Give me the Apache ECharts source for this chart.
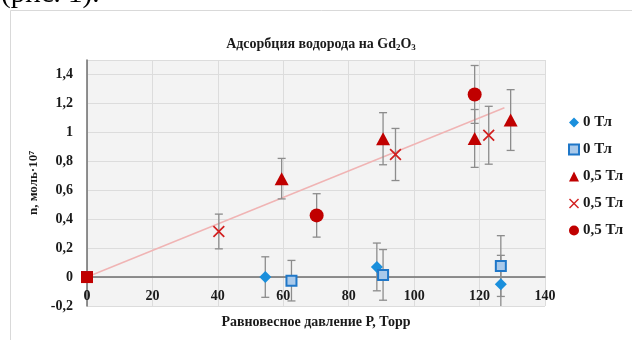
<!DOCTYPE html>
<html><head><meta charset="utf-8">
<script src="https://cdn.jsdelivr.net/npm/echarts@6/dist/echarts.min.js"></script>
<style>html,body{margin:0;padding:0;background:#fff}#c{width:632px;height:340px}</style>
</head><body><div id="c"></div>
<script>
// ---- data ----
const legendLabels = ['0 Тл', '0 Тл', '0,5 Тл', '0,5 Тл', '0,5 Тл'];
const diamondX = [0, 54.5, 88.6, 126.5];
const diamondY = [0, 0.0, 0.07, -0.05];
const diamondErr = [0, 0.14, 0.165, 0.2];
const squareX = [0, 62.5, 90.5, 126.5];
const squareY = [0, -0.025, 0.015, 0.076];
const squareErr = [0, 0.14, 0.175, 0.21];
const triX = [59.5, 90.5, 118.5, 129.5];
const triY = [0.68, 0.956, 0.958, 1.085];
const triErr = [0.14, 0.18, 0.2, 0.21];
const crossX = [40.3, 94.3, 122.8];
const crossY = [0.315, 0.847, 0.98];
const crossErr = [0.12, 0.18, 0.2];
const circX = [70.2, 118.5];
const circY = [0.426, 1.262];
const circErr = [0.15, 0.2];
const originX = [0];
const originY = [0];
const trendX = [0, 127.6];
const trendY = [0, 1.17];
const xTicks = [0, 20, 40, 60, 80, 100, 120, 140];
const yTicks = [-0.2, 0, 0.2, 0.4, 0.6, 0.8, 1, 1.2, 1.4];
const yMin = -0.2, yMax = 1.5;

const zip = (xs, ys) => xs.map((x, i) => [x, ys[i]]);
const errData = (xs, ys, es) => xs.map((x, i) => [x, ys[i] - es[i], ys[i] + es[i]]).filter((d, i) => es[i] > 0);

const FONT = '"Liberation Serif", "Times New Roman", serif';
const RED = '#c00000';
const GRID = { left: 87, right: 87, top: 60, bottom: 34 };
const plotH = 340 - GRID.top - GRID.bottom;
// shift the x axis up so that it sits at y = 0 (labels follow, as in the reference)
const xAxisOffset = -plotH * (0 - yMin) / (yMax - yMin);

function errSeries(xs, ys, es) {
  return {
    type: 'custom', silent: true, z: 2, clip: true,
    data: errData(xs, ys, es),
    renderItem: function (params, api) {
      const p0 = api.coord([api.value(0), api.value(1)]);
      const p1 = api.coord([api.value(0), api.value(2)]);
      const w = 4;
      const st = { stroke: '#8c8c8c', lineWidth: 1.3 };
      return { type: 'group', children: [
        { type: 'line', shape: { x1: p0[0], y1: p0[1], x2: p1[0], y2: p1[1] }, style: st },
        { type: 'line', shape: { x1: p0[0] - w, y1: p0[1], x2: p0[0] + w, y2: p0[1] }, style: st },
        { type: 'line', shape: { x1: p1[0] - w, y1: p1[1], x2: p1[0] + w, y2: p1[1] }, style: st }
      ]};
    }
  };
}

const crossPath = 'path://M1,0 L5,4 L9,0 L10,1 L6,5 L10,9 L9,10 L5,6 L1,10 L0,9 L4,5 L0,1 Z';

const chart = echarts.init(document.getElementById('c'), null, { renderer: 'canvas' });
chart.setOption({
  animation: false,
  backgroundColor: '#fff',
  title: {
    text: 'Адсорбция водорода на Gd{s|2}O{s|3}',
    left: 316, textAlign: 'center', top: 32,
    textStyle: {
      fontFamily: FONT, fontWeight: 'bold', fontSize: 14, color: '#1a1a1a',
      rich: { s: { fontFamily: FONT, fontWeight: 'bold', fontSize: 9, color: '#1a1a1a', verticalAlign: 'bottom', padding: [6, 0, 0, 0] } }
    }
  },
  graphic: [
    { type: 'rect', shape: { x: 10.5, y: 10.5, width: 640, height: 340 }, style: { fill: 'none', stroke: '#d9d9d9', lineWidth: 1 }, silent: true },
    { type: 'text', left: 1, top: -20, style: { text: '(рис. 1).', font: '29px "Liberation Serif", serif', fill: '#000' }, silent: true }
  ],
  legend: {
    orient: 'vertical', left: 563, top: 110, itemGap: 12,
    itemWidth: 10, itemHeight: 10,
    data: ['s1', 's2', 's3', 's4', 's5'],
    formatter: function (n) { return legendLabels[+n.slice(1) - 1]; },
    textStyle: { fontFamily: FONT, fontWeight: 'bold', fontSize: 15, color: '#1a1a1a', padding: [0, 0, 0, -1] }
  },
  grid: Object.assign({ show: true, backgroundColor: '#f3f3f3', borderWidth: 0,
    containLabel: false, outerBoundsMode: 'none' }, GRID),
  xAxis: {
    type: 'value', min: 0, max: 140, interval: 20, offset: xAxisOffset,
    axisLine: { show: true, onZero: false, lineStyle: { color: '#6e6e6e', width: 1.5 } },
    axisTick: { show: false },
    splitLine: { show: true, lineStyle: { color: '#dcdcdc', width: 1 } },
    axisLabel: { margin: 12, fontFamily: FONT, fontWeight: 'bold', fontSize: 14, color: '#1a1a1a',
      formatter: v => xTicks.includes(v) ? String(v) : '' },
    name: 'Равновесное давление Р, Торр', nameLocation: 'middle', nameGap: 38,
    nameTextStyle: { fontFamily: FONT, fontWeight: 'bold', fontSize: 14, color: '#1a1a1a' }
  },
  yAxis: {
    type: 'value', min: yMin, max: yMax, interval: 0.2,
    axisLine: { show: true, onZero: false, lineStyle: { color: '#6e6e6e', width: 1.5 } },
    axisTick: { show: false },
    splitLine: { show: true, lineStyle: { color: '#dcdcdc', width: 1 } },
    axisLabel: { margin: 14, fontFamily: FONT, fontWeight: 'bold', fontSize: 14, color: '#1a1a1a',
      formatter: function (v) {
        const r = Math.round(v * 10) / 10;
        if (!yTicks.some(t => Math.abs(t - r) < 1e-6)) return '';
        return String(r).replace('.', ',');
      } },
    name: 'n, моль·10⁷', nameLocation: 'middle', nameGap: 47, nameRotate: 90,
    nameTextStyle: { fontFamily: FONT, fontWeight: 'bold', fontSize: 13, color: '#1a1a1a' }
  },
  series: [
    { type: 'line', silent: true, z: 1, data: zip(trendX, trendY), showSymbol: false, symbol: 'none',
      lineStyle: { color: '#f0b4b4', width: 1.5 } },
    errSeries(diamondX, diamondY, diamondErr),
    errSeries(squareX, squareY, squareErr),
    errSeries(triX, triY, triErr),
    errSeries(crossX, crossY, crossErr),
    errSeries(circX, circY, circErr),
    { name: 's1', type: 'scatter', z: 3, symbol: 'diamond', symbolSize: 12, data: zip(diamondX, diamondY),
      itemStyle: { color: '#1a8fdc', opacity: 1 } },
    { name: 's2', type: 'scatter', z: 3, symbol: 'rect', symbolSize: 10, data: zip(squareX, squareY),
      itemStyle: { color: '#a9c9ea', borderColor: '#1f77c8', borderWidth: 2, opacity: 1 } },
    { name: 's3', type: 'scatter', z: 3, symbol: 'triangle', symbolSize: [14, 13], data: zip(triX, triY),
      itemStyle: { color: RED, opacity: 1 } },
    { name: 's4', type: 'scatter', z: 3, symbol: crossPath, symbolSize: 12, data: zip(crossX, crossY),
      itemStyle: { color: '#d21f1f', opacity: 1 } },
    { name: 's5', type: 'scatter', z: 3, symbol: 'circle', symbolSize: 14, data: zip(circX, circY),
      itemStyle: { color: RED, opacity: 1 } },
    { name: 'origin', type: 'scatter', z: 4, symbol: 'rect', symbolSize: 12, data: zip(originX, originY),
      itemStyle: { color: RED, opacity: 1 } }
  ]
});
</script>
</body></html>
